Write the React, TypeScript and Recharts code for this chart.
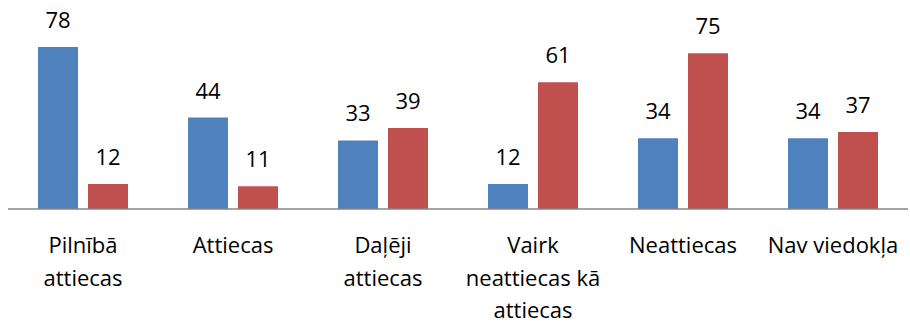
import React from 'react';
import { BarChart, Bar, XAxis, YAxis, LabelList } from 'recharts';

const categories = [
  'Pilnībā attiecas',
  'Attiecas',
  'Daļēji attiecas',
  'Vairk neattiecas kā attiecas',
  'Neattiecas',
  'Nav viedokļa',
];
const seriesA = [78, 44, 33, 12, 34, 34];
const seriesB = [12, 11, 39, 61, 75, 37];

const data = categories.map((name, i) => ({ name, a: seriesA[i], b: seriesB[i] }));

const FONT = '"Open Sans", sans-serif';
const FS = 22;

// wrap label words roughly like Excel does in a narrow category slot
const wrap = (text: string, maxChars = 13) => {
  const lines: string[] = [];
  let cur = '';
  text.split(' ').forEach((w) => {
    const next = cur ? cur + ' ' + w : w;
    if (next.length > maxChars && cur) {
      lines.push(cur);
      cur = w;
    } else {
      cur = next;
    }
  });
  if (cur) lines.push(cur);
  return lines;
};

const CategoryTick = (props: any) => {
  const { x, payload } = props;
  const lines = wrap(payload.value);
  return (
    <text x={x} y={209} textAnchor="middle" fontSize={FS} fontFamily={FONT} fill="#000">
      {lines.map((l, i) => (
        <tspan key={i} x={x} y={209 + 44 + i * 32.5}>
          {l}
        </tspan>
      ))}
    </text>
  );
};

const App: React.FC = () => {
  return (
    <div style={{ position: 'absolute', left: 0, top: 0, width: 910, height: 325 }}>
      <BarChart
        width={910}
        height={325}
        data={data}
        margin={{ top: 22, right: 2, left: 8, bottom: 0 }}
        barCategoryGap={30}
        barGap={10}
      >
        <XAxis
          dataKey="name"
          height={116}
          tickLine={false}
          axisLine={{ stroke: '#868686', strokeWidth: 1.5 }}
          interval={0}
          tick={<CategoryTick />}
        />
        <YAxis hide domain={[0, 90]} />
        <Bar dataKey="a" fill="#4F81BD" isAnimationActive={false}>
          <LabelList
            dataKey="a"
            position="top"
            offset={19}
            fontSize={FS}
            fontFamily={FONT}
            fill="#000"
          />
        </Bar>
        <Bar dataKey="b" fill="#C0504D" isAnimationActive={false}>
          <LabelList
            dataKey="b"
            position="top"
            offset={19}
            fontSize={FS}
            fontFamily={FONT}
            fill="#000"
          />
        </Bar>
      </BarChart>
    </div>
  );
};

export default App;
